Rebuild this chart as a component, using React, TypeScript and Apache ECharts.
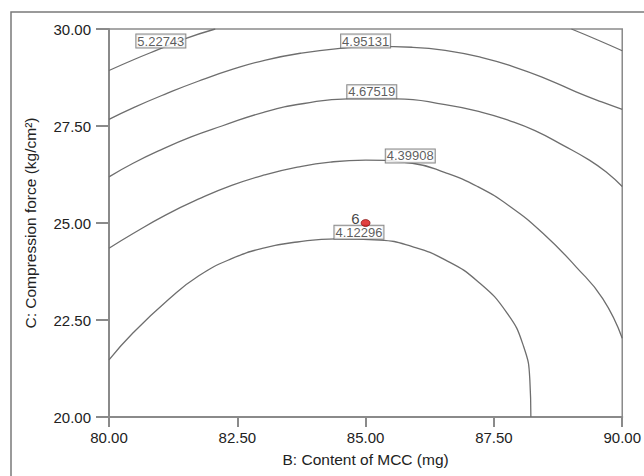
import { useEffect, useRef } from "react";
import * as echarts from "echarts";

// Contour lines (x = B: Content of MCC, y = C: Compression force)
const contourA = [
  [80, 21.47], [80.47, 22.17], [81.17, 23.04], [81.75, 23.64], [82.39, 24.08], [83.03, 24.36],
  [83.67, 24.51], [84.43, 24.59], [85.27, 24.56], [85.91, 24.39], [86.55, 24.05], [87.18, 23.5],
  [87.76, 22.67], [88.08, 21.81], [88.2, 20.95], [88.22, 20.0],
];
const contourB = [
  [80, 24.35], [80.47, 24.73], [81.11, 25.21], [81.75, 25.62], [82.39, 25.97], [83.03, 26.24],
  [83.67, 26.44], [84.31, 26.57], [85.0, 26.62], [85.91, 26.54], [86.55, 26.3], [87.18, 25.94],
  [87.82, 25.42], [88.46, 24.73], [89.1, 23.87], [89.62, 23.05], [90, 22.03],
];
const contourC = [
  [80, 26.19], [80.47, 26.54], [81.0, 26.88], [81.6, 27.22], [82.2, 27.5], [83.03, 27.86],
  [83.8, 28.08], [84.66, 28.2], [85.6, 28.2], [86.55, 28.05], [87.25, 27.86], [87.8, 27.64],
  [88.3, 27.38], [88.85, 27.0], [89.36, 26.62], [89.7, 26.3], [90, 25.94],
];
const contourD = [
  [80, 27.67], [80.49, 27.98], [81.13, 28.34], [81.75, 28.66], [82.43, 28.97], [83.05, 29.2],
  [83.75, 29.38], [84.5, 29.5], [85.2, 29.55], [85.9, 29.53], [86.55, 29.45], [87.25, 29.27],
  [87.9, 29.02], [88.53, 28.71], [89.1, 28.38], [89.6, 28.12], [90, 27.93],
];
const contourE = [[80, 28.93], [80.5, 29.22], [80.98, 29.48], [81.46, 29.74], [82.07, 30]];
const contourF = [[89.01, 30], [89.5, 29.73], [90, 29.44]];

const contourLines = [contourA, contourB, contourC, contourD, contourE, contourF];

// Contour level labels and where they sit
const levelLabels = ["4.12296", "4.39908", "4.67519", "4.95131", "5.22743"];
const levelLabelX = [84.87, 85.87, 85.12, 85.0, 81.01];
const levelLabelY = [24.76, 26.73, 28.38, 29.69, 29.69];

// Design point
const designX = [85];
const designY = [25];
const designCount = ["6"];

const xTicks = [80, 82.5, 85, 87.5, 90];
const yTicks = [20, 22.5, 25, 27.5, 30];

const FONT = "'Liberation Sans', Arial, Helvetica, sans-serif";

export default function App() {
  const ref = useRef<HTMLDivElement>(null);
  useEffect(() => {
    document.body.style.margin = "0";
    const chart = echarts.init(ref.current!, null, { renderer: "svg" });
    const lineSeries = contourLines.map((pts) => ({
      type: "line",
      data: pts,
      smooth: 0.5,
      showSymbol: false,
      symbol: "none",
      clip: true,
      silent: true,
      lineStyle: { color: "#6e6e6e", width: 1.3 },
      z: 2,
    }));
    chart.setOption({
      animation: false,
      backgroundColor: "#ffffff",
      textStyle: { fontFamily: FONT },
      graphic: [
        {
          type: "rect",
          silent: true,
          z: -10,
          shape: { x: 11, y: 12, width: 660, height: 500 },
          style: { fill: "none", stroke: "#7a7a7a", lineWidth: 1.5 },
        },
      ],
      grid: {
        left: 109,
        right: 14,
        top: 29,
        bottom: 59,
        show: true,
        borderColor: "#8a8a8a",
        borderWidth: 1.5,
        backgroundColor: "transparent",
      },
      xAxis: {
        type: "value",
        min: xTicks[0],
        max: xTicks[xTicks.length - 1],
        interval: 2.5,
        name: "B: Content of MCC (mg)",
        nameLocation: "middle",
        nameGap: 34,
        nameTextStyle: { fontSize: 15.5, color: "#222", fontFamily: FONT },
        axisLine: { show: true, lineStyle: { color: "#8a8a8a", width: 2 } },
        axisTick: { show: true, length: 10, lineStyle: { color: "#8a8a8a", width: 2 } },
        axisLabel: {
          fontSize: 15,
          color: "#222",
          margin: 13,
          fontFamily: FONT,
          formatter: (v: number) => v.toFixed(2),
        },
        splitLine: { show: false },
      },
      yAxis: {
        type: "value",
        min: yTicks[0],
        max: yTicks[yTicks.length - 1],
        interval: 2.5,
        name: "C: Compression force (kg/cm²)",
        nameLocation: "middle",
        nameGap: 71,
        nameTextStyle: { fontSize: 15.5, color: "#222", fontFamily: FONT },
        axisLine: { show: true, lineStyle: { color: "#8a8a8a", width: 2 } },
        axisTick: { show: true, length: 13, lineStyle: { color: "#8a8a8a", width: 2 } },
        axisLabel: {
          fontSize: 15,
          color: "#222",
          margin: 18,
          fontFamily: FONT,
          formatter: (v: number) => v.toFixed(2),
        },
        splitLine: { show: false },
      },
      series: [
        ...lineSeries,
        {
          type: "scatter",
          data: levelLabels.map((t, i) => [levelLabelX[i], levelLabelY[i], t]),
          symbolSize: 1,
          itemStyle: { color: "rgba(0,0,0,0)" },
          silent: true,
          z: 5,
          label: {
            show: true,
            position: "inside",
            formatter: (p: any) => p.value[2],
            fontSize: 13,
            fontFamily: FONT,
            color: "#333",
            backgroundColor: "#ffffff",
            borderColor: "#6a6a6a",
            borderWidth: 1,
            padding: [0, 1, 0, 1],
          },
        },
        {
          type: "scatter",
          data: designX.map((x, i) => [x, designY[i], designCount[i]]),
          symbol: "circle",
          symbolSize: [9, 7],
          itemStyle: { color: "#d91010", borderColor: "#7a0000", borderWidth: 0.8 },
          silent: true,
          z: 6,
          label: {
            show: true,
            position: "left",
            distance: 1,
            offset: [0, -5],
            formatter: (p: any) => p.value[2],
            fontSize: 15,
            fontFamily: FONT,
            color: "#111",
          },
        },
      ],
    });
    return () => chart.dispose();
  }, []);
  return <div ref={ref} style={{ width: 644, height: 476 }} />;
}
